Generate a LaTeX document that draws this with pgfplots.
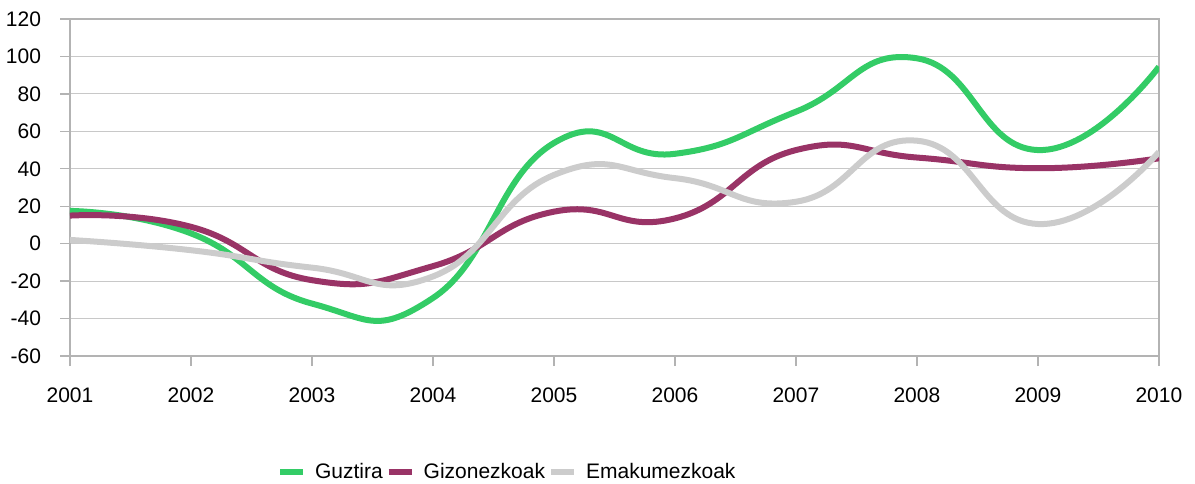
\documentclass[border=0pt]{standalone}
\usepackage{fontspec}
\setmainfont{Liberation Sans}
\usepackage{pgfplots}
\pgfplotsset{compat=1.18}
\definecolor{cg}{RGB}{51,204,102}
\definecolor{cp}{RGB}{153,51,102}
\definecolor{cy}{RGB}{204,204,204}
\definecolor{gridc}{RGB}{200,200,200}
\definecolor{axc}{RGB}{179,179,179}
\begin{document}
\begin{tikzpicture}
\path[use as bounding box] (-35pt,-63.5pt) rectangle (562.5pt,178pt);
\begin{axis}[
  at={(0,0)}, anchor=south west,
  scale only axis, width=544.5pt, height=168.5pt,
  xmin=2001, xmax=2010, ymin=-60, ymax=120,
  xtick={2001,...,2010}, ytick={-60,-40,...,120},
  ymajorgrids, grid style={color=gridc, line width=0.6pt},
  axis line style={color=axc, line width=0.7pt},
  tick style={color=axc, line width=0.7pt},
  tick align=outside, major tick length=5pt,
  xtick pos=bottom, ytick pos=left,
  font=\fontsize{10.5pt}{12pt}\selectfont,
  /pgf/number format/assume math mode=true,
  xticklabel style={/pgf/number format/1000 sep={}, yshift=-7.5pt},
  yticklabel style={xshift=-6pt},
  every axis plot/.append style={line width=3pt, smooth, tension=0.85, line join=round},
  legend style={at={(0.402,-0.344)}, anchor=center, draw=none, legend columns=-1,
    /tikz/every odd column/.append style={column sep=3pt},
    /tikz/every even column/.append style={column sep=0pt},
    nodes={inner xsep=1.5pt},
    font=\fontsize{10.5pt}{12pt}\selectfont},
  legend image code/.code={\draw[line width=3pt] (0pt,0pt) -- (11.5pt,0pt);},
]
\addplot[cg] coordinates {(2001,17.5) (2002,5.5) (2003,-32) (2004,-29) (2005,53.8) (2006,48) (2007,70.5) (2008,99) (2009,50) (2010,94.5)};
\addlegendentry{Guztira}
\addplot[cp] coordinates {(2001,15) (2002,9) (2003,-19.5) (2004,-12) (2005,17.1) (2006,13.5) (2007,50) (2008,46) (2009,40.3) (2010,45.6)};
\addlegendentry{Gizonezkoak}
\addplot[cy] coordinates {(2001,2) (2002,-3.5) (2003,-12.8) (2004,-17.5) (2005,36.7) (2006,35) (2007,22.4) (2008,55) (2009,10.5) (2010,49)};
\addlegendentry{Emakumezkoak}
\end{axis}
\end{tikzpicture}
\end{document}
